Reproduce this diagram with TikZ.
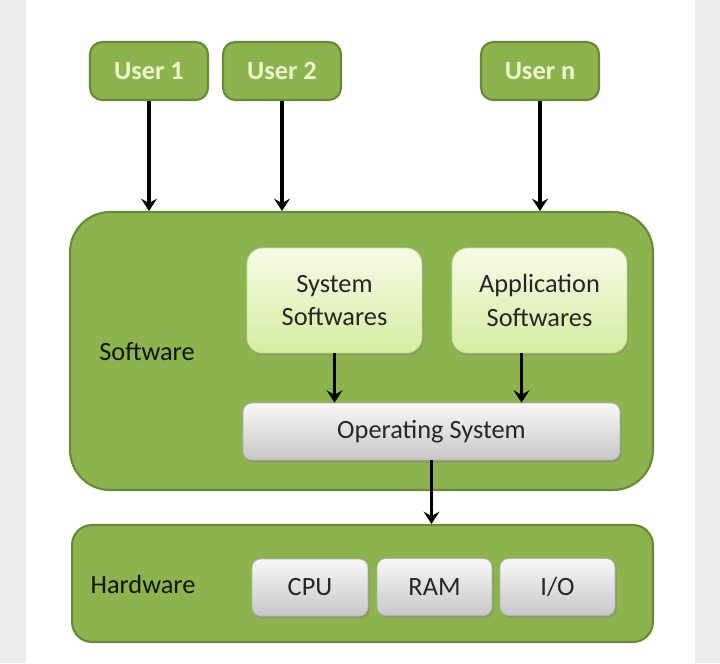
\documentclass[tikz,border=0pt]{standalone}
\usepackage{fontspec}
\setmainfont{Carlito}
\usetikzlibrary{arrows.meta,shadows}
\definecolor{leaf}{RGB}{141,179,78}
\definecolor{leafline}{RGB}{104,138,52}
\definecolor{cream}{RGB}{238,245,205}
\definecolor{paleTop}{RGB}{246,251,232}
\definecolor{paleBot}{RGB}{214,235,160}
\definecolor{band}{RGB}{236,236,236}
\tikzset{
  usrbox/.style={draw=leafline, line width=1.2pt, fill=leaf, rounded corners=7pt,
    minimum width=2.36cm, minimum height=1.16cm, text=cream, font=\fontsize{15}{18}\selectfont\bfseries},
  layerbox/.style={draw=leafline, line width=1.2pt, fill=leaf},
  swbox/.style={rounded corners=9pt, top color=paleTop, bottom color=paleBot, draw=paleBot!80!leaf,
    minimum width=3.5cm, minimum height=2.1cm, align=center, text=black!85,
    font=\fontsize{15}{19}\selectfont, drop shadow={shadow xshift=1pt,shadow yshift=-1.5pt,opacity=0.35}},
  greybox/.style={rounded corners=5pt, top color=black!3, bottom color=black!22, draw=black!30,
    minimum height=1.14cm, text=black!85, font=\fontsize{15}{18}\selectfont,
    drop shadow={shadow xshift=1pt,shadow yshift=-1.5pt,opacity=0.4}},
  lbl/.style={text=black!85!leafline, font=\fontsize{15}{18}\selectfont},
  arr/.style={line width=2pt, -{Stealth[length=7pt,width=9pt,inset=2.5pt]}}
}

\begin{document}
\begin{tikzpicture}[x=0.02cm, y=-0.02cm]
  \useasboundingbox (0,0) rectangle (720,663);
  \fill[band] (0,0) rectangle (26,663);
  \fill[band] (695,0) rectangle (720,663);

  % users
  \node[usrbox] (user1) at (149,71) {User 1};
  \node[usrbox] (user2) at (282,71) {User 2};
  \node[usrbox] (usern) at (540,71) {User n};

  % software layer
  \node[layerbox, rounded corners=0.8cm, minimum width=11.66cm, minimum height=5.56cm] (software) at (361.5,351) {};
  \node[lbl] (swlabel) at (147,352) {Software};
  \node[swbox] (syssw) at (334.5,300.5) {System\\Softwares};
  \node[swbox] (appsw) at (539.5,300.5) {Application\\Softwares};
  \node[greybox, minimum width=7.54cm] (os) at (431.5,431.5) {Operating System};

  % hardware layer
  \node[layerbox, rounded corners=0.4cm, minimum width=11.62cm, minimum height=2.34cm] (hardware) at (362.5,583.5) {};
  \node[lbl] (hwlabel) at (143,584) {Hardware};
  \node[greybox, minimum width=2.32cm] (cpu) at (310,587.5) {CPU};
  \node[greybox, minimum width=2.3cm] (ram) at (434.5,587) {RAM};
  \node[greybox, minimum width=2.3cm] (io) at (557.5,587) {I/O};

  % arrows
  \draw[arr] (user1) -- (user1 |- software.north);
  \draw[arr] (user2) -- (user2 |- software.north);
  \draw[arr] (usern) -- (usern |- software.north);
  \draw[arr] (syssw) -- (syssw |- os.north);
  \draw[arr] ([xshift=-0.36cm]appsw.south) -- ([xshift=-0.36cm]appsw.south |- os.north);
  \draw[arr] (os) -- (os |- hardware.north);
\end{tikzpicture}
\end{document}
